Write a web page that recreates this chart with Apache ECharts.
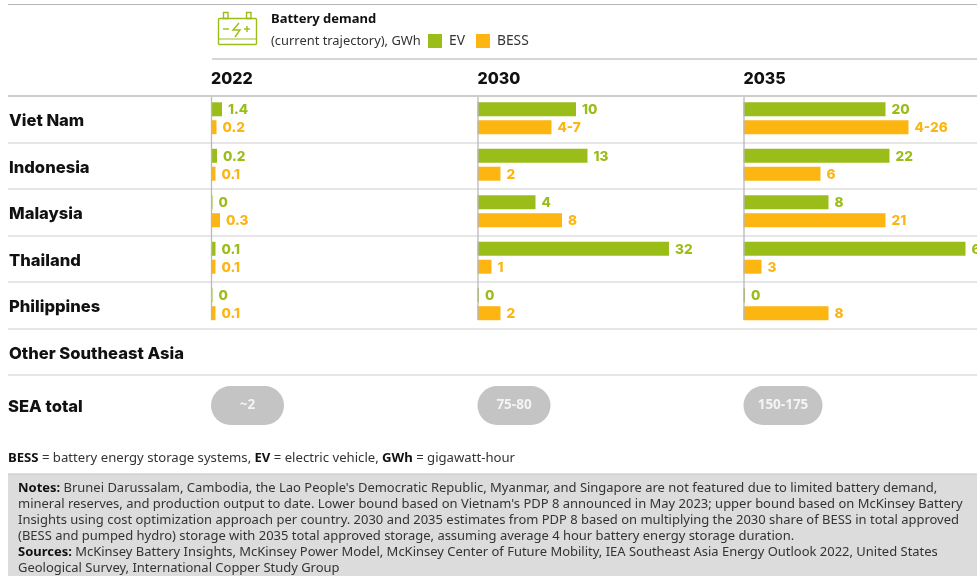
<!DOCTYPE html>
<html><head><meta charset="utf-8">
<script src="https://cdn.jsdelivr.net/npm/echarts@6/dist/echarts.min.js"></script>
<style>html,body{margin:0;padding:0;background:#fff}#c{width:977px;height:576px}</style>
</head><body><div id="c"></div>
<script>
const rowNames = ['Viet Nam','Indonesia','Malaysia','Thailand','Philippines','Other Southeast Asia'];
const countries = ['Viet Nam','Indonesia','Malaysia','Thailand','Philippines'];
const years = ['2022','2030','2035'];
const seaTotals = ['~2','75-80','150-175'];

// Printed value labels
const evLabels2022 = ['1.4','0.2','0','0.1','0'];
const bessLabels2022 = ['0.2','0.1','0.3','0.1','0.1'];
const evLabels2030 = ['10','13','4','32','0'];
const bessLabels2030 = ['4-7','2','8','1','2'];
const evLabels2035 = ['20','22','8','60','0'];
const bessLabels2035 = ['4-26','6','21','3','8'];

// Bar lengths as drawn in the picture (the source's bars are not proportional to the printed numbers)
const evBars2022 = [11,6,1.5,4.5,1.5];
const bessBars2022 = [5.5,4.5,9,4.5,4.5];
const evBars2030 = [98.5,110,58,191.5,1.5];
const bessBars2030 = [74,23,84.5,14,23];
const evBars2035 = [142,146,85,222,1.5];
const bessBars2035 = [165,77,142,18,85];

const GREEN='#9bbd1a', ORANGE='#fdb512', FONT='"Noto Sans"', HEAD='Inter';
const colX=[211,477.5,743.5];
const pillW=[73,73,79];
const evLabels=[evLabels2022,evLabels2030,evLabels2035], bessLabels=[bessLabels2022,bessLabels2030,bessLabels2035];
const evBars=[evBars2022,evBars2030,evBars2035], bessBars=[bessBars2022,bessBars2030,bessBars2035];

const noteLines=[
 [['b','Notes: '],['n',"Brunei Darussalam, Cambodia, the Lao People's Democratic Republic, Myanmar, and Singapore are not featured due to limited battery demand,"]],
 [['n',"mineral reserves, and production output to date. Lower bound based on Vietnam's PDP 8 announced in May 2023; upper bound based on McKinsey Battery"]],
 [['n',"Insights using cost optimization approach per country. 2030 and 2035 estimates from PDP 8 based on multiplying the 2030 share of BESS in total approved"]],
 [['n',"(BESS and pumped hydro) storage with 2035 total approved storage, assuming average 4 hour battery energy storage duration."]],
 [['b','Sources: '],['n',"McKinsey Battery Insights, McKinsey Power Model, McKinsey Center of Future Mobility, IEA Southeast Asia Energy Outlook 2022, United States"]],
 [['n',"Geological Survey, International Copper Study Group"]]
];
const richize=parts=>parts.map(p=>'{'+p[0]+'|'+p[1]+'}').join('');
const rich=(sz)=>({b:{fontFamily:FONT,fontSize:sz,fontWeight:700,fill:'#111',color:'#111'},n:{fontFamily:FONT,fontSize:sz,color:'#333',fill:'#333'}});

// Grid 0: row separators; grid 1: row labels (nudged to sit as in the reference)
const hiddenX=i=>({gridIndex:i,type:'value',min:0,max:100,show:false});
const grids=[{left:8,right:0,top:96,height:279},{left:8,right:0,top:98,height:279}],
 xAxes=[hiddenX(0),hiddenX(1)],
 yAxes=[
  {gridIndex:0,type:'category',inverse:true,data:rowNames,axisLine:{show:false},axisTick:{show:false},axisLabel:{show:false},
   splitLine:{show:true,interval:0,lineStyle:{color:'#dedede',width:1.5}}},
  {gridIndex:1,type:'category',inverse:true,data:rowNames,axisLine:{show:false},axisTick:{show:false},splitLine:{show:false},
   axisLabel:{inside:true,margin:1,fontFamily:HEAD,fontSize:16.6,fontWeight:800,color:'#111',interval:0}}
 ];
const series=[];
colX.forEach((x,i)=>{
  const w=977-x, g=i+2;
  grids.push({left:x,width:w,top:95,height:232.5});
  xAxes.push({gridIndex:g,type:'value',min:0,max:w,show:false});
  yAxes.push({gridIndex:g,type:'category',inverse:true,data:countries,axisLine:{show:false},axisTick:{show:false},axisLabel:{show:false},splitLine:{show:false}});
  [['EV',evBars[i],evLabels[i],GREEN],['BESS',bessBars[i],bessLabels[i],ORANGE]].forEach(([n,d,l,c])=>{
    series.push({name:n,type:'bar',xAxisIndex:g,yAxisIndex:g,data:d,barWidth:14,barGap:'28%',itemStyle:{color:c},silent:true,
      label:{show:true,position:'right',distance:6,offset:[0,1],color:c,fontFamily:HEAD,fontWeight:800,fontSize:13.6,formatter:p=>l[p.dataIndex]}});
  });
});

const line=(x1,y1,x2,y2,color,w)=>({type:'line',shape:{x1,y1,x2,y2},style:{stroke:color,lineWidth:w},z:5});
const IC=GREEN;
const g=[
  line(8,4.5,977,4.5,'#b5b5b5',1.2),
  line(212,59,977,59,'#c8c8c8',1.5),
  line(8,96,977,96,'#c4c4c4',1.5),
  {type:'text',left:8,top:398,style:{text:'SEA total',font:'800 16.6px '+HEAD,fill:'#111'}},
  {type:'text',left:271,top:13,style:{text:'Battery demand',font:'700 13px '+FONT,fill:'#111'}},
  {type:'text',left:271,top:35,style:{text:'(current trajectory), GWh',font:'12.9px '+FONT,fill:'#333'}},
  {type:'text',left:8,top:452,style:{rich:rich(13.15),text:'{b|BESS} {n|= battery energy storage systems,} {b|EV} {n|= electric vehicle,} {b|GWh} {n|= gigawatt-hour}'}},
  {type:'rect',shape:{x:8,y:474,width:969,height:102},style:{fill:'#dcdcdc'},z:0},
  line(8,474,977,474,'#c4c4c4',1),
  // battery icon
  {type:'rect',shape:{x:218.5,y:18.5,width:38,height:26,r:1},style:{fill:'none',stroke:IC,lineWidth:1.4}},
  {type:'rect',shape:{x:223.5,y:12.5,width:4.5,height:6},style:{fill:'none',stroke:IC,lineWidth:1.4}},
  {type:'rect',shape:{x:246.5,y:12.5,width:4.5,height:6},style:{fill:'none',stroke:IC,lineWidth:1.4}},
  line(218.5,39,256.5,39,IC,1.2), line(223,29,229,29,IC,1.4), line(244,29,250,29,IC,1.4), line(247,26,247,32,IC,1.4),
  {type:'polyline',shape:{points:[[239,23],[233,30],[240,30],[235,37]]},style:{fill:'none',stroke:IC,lineWidth:1.4}}
];
colX.forEach((x,i)=>{
  g.push({type:'text',left:x,top:71,style:{text:years[i],font:'800 16px '+HEAD,fill:'#111'}});
  g.push(Object.assign(line(x+0.5,97,x+0.5,320,'#b8b8b8',1.3),{z:50}));
  g.push({type:'rect',shape:{x:x,y:386,width:pillW[i],height:39,r:19.5},style:{fill:'#c4c4c4'}});
  g.push({type:'text',x:x+pillW[i]/2,y:405.5,style:{text:seaTotals[i],font:'700 13.5px '+FONT,fill:'#f4f4f4',textAlign:'center',textVerticalAlign:'middle'}});
});
noteLines.forEach((p,i)=>{
  g.push({type:'text',x:18,y:488+i*16.1,z:6,style:{rich:rich(12.98),text:richize(p),textVerticalAlign:'middle'}});
});

const chart=echarts.init(document.getElementById('c'),null,{renderer:'canvas'});
chart.setOption({
  animation:false,backgroundColor:'#fff',
  legend:{left:428,top:34,padding:0,itemWidth:14,itemHeight:14,itemGap:11,icon:'rect',data:['EV','BESS'],selectedMode:false,
    textStyle:{fontFamily:FONT,fontSize:13.8,color:'#333',padding:[0,0,0,2]}},
  color:[GREEN,ORANGE],
  grid:grids,xAxis:xAxes,yAxis:yAxes,series,graphic:g
});
</script></body></html>
